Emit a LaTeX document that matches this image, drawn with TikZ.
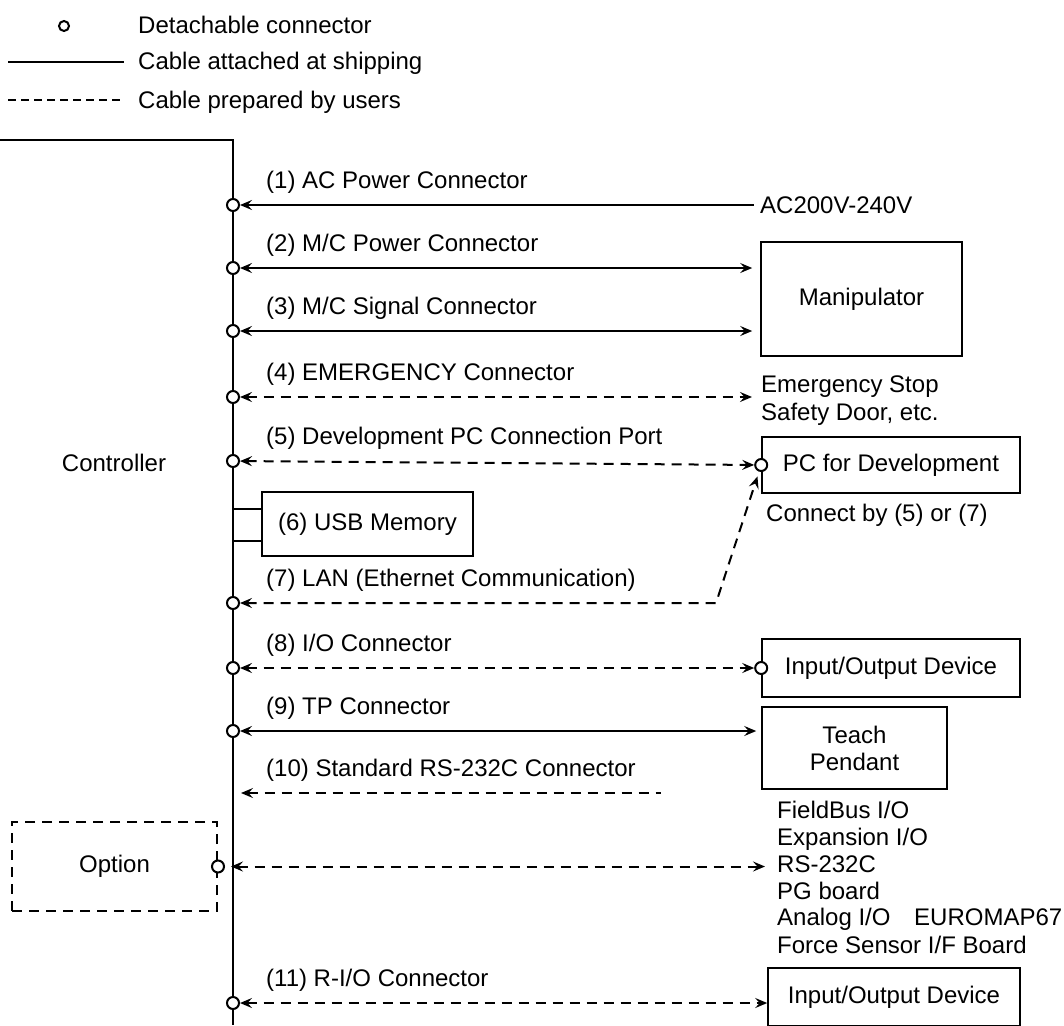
\documentclass[tikz,border=0pt]{standalone}
\usepackage{fontspec}
\setmainfont{Liberation Sans}
\usetikzlibrary{arrows.meta,calc}
\begin{document}
\begin{tikzpicture}[x=1pt,y=-1pt,
  every node/.style={font=\fontsize{24}{27}\selectfont},
  lbl/.style={anchor=base west,inner sep=0pt},
  cable/.style={line width=2pt},
  ucable/.style={line width=2pt,dash pattern=on 10pt off 7pt},
  conn/.style={circle,draw,line width=2pt,fill=white,inner sep=0pt,minimum size=12pt},
  box/.style={draw,line width=1.6pt,inner sep=0pt,align=center},
  >={Stealth[length=12pt,width=10pt,inset=4.5pt]}]
\useasboundingbox (0,0) rectangle (1064,1025);

% legend
\node[conn,minimum size=10pt] (lgc) at (64,26) {};
\node[lbl] (lgt1) at (138,34) {Detachable connector};
\node[lbl] (lgt2) at (138,70) {Cable attached at shipping};
\node[lbl] (lgt3) at (138,108) {Cable prepared by users};
\coordinate (lgs) at (8,62);
\coordinate (lgd) at (8,100);
\draw[line width=1.6pt] (lgs) -- (lgs -| 124,0);
\draw[line width=1.6pt,dash pattern=on 8pt off 5pt] (lgd) -- (lgd -| 124,0);

% controller outline
\coordinate (cl) at (0,140);
\coordinate (ctop) at (233,140);
\coordinate (cb) at (233,1025);
\draw[cable] (cl) -- (ctop) -- (cb);
\node (ctl) at (114,463) {Controller};

% USB memory (attached directly)
\node[box,minimum width=211pt,minimum height=64pt] (usb) at (367.5,524) {(6) USB Memory};
\draw[cable] ($(usb.west)+(0,-15)$) -- ++(-29,0);
\draw[cable] ($(usb.west)+(0,17)$) -- ++(-29,0);

% option box
\node[box,line width=2pt,dash pattern=on 10pt off 7pt,minimum width=205pt,minimum height=89pt] (opt) at (114.5,866.5) {Option};

% connectors on controller
\foreach \n/\y in {1/205,2/268,3/331,4/397,5/461,7/603,8/668,9/731,11/1003}
  \node[conn] (c\n) at (233,\y) {};
\node[conn] (po) at (opt.east) {};

% labels
\node[lbl] (l1) at (266,188) {(1) AC Power Connector};
\node[lbl] (l2) at (266,251) {(2) M/C Power Connector};
\node[lbl] (l3) at (266,314) {(3) M/C Signal Connector};
\node[lbl] (l4) at (266,380) {(4) EMERGENCY Connector};
\node[lbl] (l5) at (266,444) {(5) Development PC Connection Port};
\node[lbl] (l7) at (266,586) {(7) LAN (Ethernet Communication)};
\node[lbl] (l8) at (266,651) {(8) I/O Connector};
\node[lbl] (l9) at (266,714) {(9) TP Connector};
\node[lbl] (l10) at (266,776) {(10) Standard RS-232C Connector};
\node[lbl] (l11) at (266,986) {(11) R-I/O Connector};

% right-hand devices
\node[lbl,anchor=west] (ac) at (760,205) {AC200V-240V};
\node[box,minimum width=201pt,minimum height=114pt] (man) at (861.5,299) {Manipulator};
\node[lbl] (em1) at (761,392) {Emergency Stop};
\node[lbl] (em2) at (761,420) {Safety Door, etc.};
\node[box,minimum width=258pt,minimum height=56pt] (pc) at (891,465) {PC for Development};
\node[conn] (p5) at (pc.west) {};
\node[lbl] (cbt) at (766,521) {Connect by (5) or (7)};
\node[box,minimum width=258pt,minimum height=58pt] (io1) at (891,668) {Input/Output Device};
\node[conn] (p8) at (io1.west) {};
\node[box,minimum width=185pt,minimum height=82pt] (tp) at (854.5,748) {Teach\\Pendant};
\node[lbl] (f1) at (777,818) {FieldBus I/O};
\node[lbl] (f2) at (777,845) {Expansion I/O};
\node[lbl] (f3) at (777,872) {RS-232C};
\node[lbl] (f4) at (777,899) {PG board};
\node[lbl] (f5) at (777,925) {Analog I/O};
\node[lbl] (f5b) at (914,925) {EUROMAP67};
\node[lbl] (f6) at (777,953) {Force Sensor I/F Board};
\node[box,minimum width=252pt,minimum height=58pt] (io2) at (894,997) {Input/Output Device};

% cables
\draw[cable,<-,shorten >=6pt] (c1) -- (ac.west |- c1);
\draw[cable,<->,shorten >=8pt] (c2) -- (man.west |- c2);
\draw[cable,<->,shorten >=8pt] (c3) -- (man.west |- c3);
\draw[ucable,<->,shorten >=9pt] (c4) -- (em1.west |- c4);
\draw[ucable,<->] (c5) -- (p5);
\coordinate (k7) at (716,603);
\draw[ucable,<->,shorten >=5pt] (c7) -- (k7) -- (p5);
\draw[ucable,<->] (c8) -- (p8);
\draw[cable,<->,shorten >=5pt] (c9) -- (tp.west |- c9);
\coordinate (v10) at (233,793);
\coordinate (k10) at (661,793);
\draw[ucable,<-,shorten <=8pt] (v10) -- (k10);
\draw[ucable,<->,shorten <=6pt,shorten >=12pt] (po) -- (f3.west |- po);
\draw[ucable,<->] (c11) -- (io2.west |- c11);
\end{tikzpicture}
\end{document}
